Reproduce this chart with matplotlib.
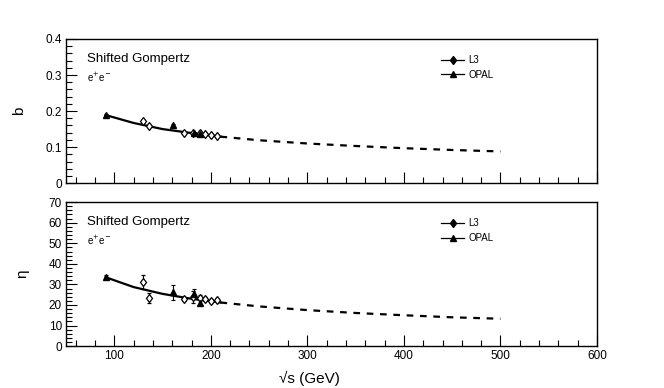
import matplotlib
matplotlib.use("Agg")
import matplotlib.pyplot as plt
from matplotlib.lines import Line2D
from matplotlib.ticker import MultipleLocator

plt.rcParams['font.family'] = ['Liberation Sans', 'DejaVu Sans']

# ---- data ----
l3_s_b = [130, 136, 172, 182, 189, 194, 200, 206]
l3_b = [0.173, 0.158, 0.138, 0.140, 0.140, 0.137, 0.133, 0.130]
l3_b_err = [0.003, 0.003, 0.002, 0.002, 0.002, 0.002, 0.002, 0.002]
opal_s_b = [91.2, 161, 183, 189]
opal_b = [0.189, 0.161, 0.140, 0.135]
opal_b_err = [0.002, 0.002, 0.002, 0.002]

l3_s_eta = [130, 136, 172, 182, 189, 194, 200, 206]
l3_eta = [31.3, 23.2, 22.7, 24.0, 23.5, 22.8, 22.0, 22.4]
l3_eta_err = [3.3, 2.4, 1.0, 2.9, 1.2, 1.0, 1.0, 1.0]
opal_s_eta = [91.2, 161, 183, 189]
opal_eta = [33.7, 26.1, 25.5, 21.2]
opal_eta_err = [1.0, 3.5, 2.5, 1.0]

fit_s = [91, 120, 150, 180, 210, 250, 300, 350, 400, 450, 500]
fit_b = [0.189, 0.167, 0.150, 0.139, 0.129, 0.119, 0.110, 0.103, 0.097, 0.092, 0.088]
fit_eta = [33.5, 28.7, 25.4, 23.0, 21.2, 19.3, 17.5, 16.1, 15.0, 14.0, 13.3]
solid_end = 5  # fit points up to 210 GeV drawn solid

fig = plt.figure(figsize=(6.64, 3.88), dpi=100)
ax1 = fig.add_axes([0.0994, 0.528, 0.7997, 0.3715])
ax2 = fig.add_axes([0.0994, 0.108, 0.7997, 0.371])

def style(ax, ymax, ymaj, ymin):
    ax.set_xlim(50, 600)
    ax.set_ylim(0, ymax)
    ax.xaxis.set_major_locator(MultipleLocator(100))
    ax.xaxis.set_minor_locator(MultipleLocator(20))
    ax.yaxis.set_major_locator(MultipleLocator(ymaj))
    ax.yaxis.set_minor_locator(MultipleLocator(ymin))
    ax.tick_params(which='both', direction='in', top=False, right=False,
                   labelsize=8.5, width=0.8, pad=3)
    ax.tick_params(which='major', length=8)
    ax.tick_params(which='minor', length=4)
    for sp in ax.spines.values():
        sp.set_linewidth(1.0)

def panel(ax, fit_y, l3x, l3y, l3e, opx, opy, ope):
    ax.plot(fit_s[:solid_end], fit_y[:solid_end], color='black', lw=1.6)
    ax.plot(fit_s[solid_end - 1:], fit_y[solid_end - 1:], color='black', lw=1.6,
            ls=(0, (3, 3)))
    ax.errorbar(l3x, l3y, yerr=l3e, fmt='d', mfc='white', mec='black', ms=4.5,
                mew=0.9, ecolor='black', elinewidth=0.8, capsize=1.5, capthick=0.8)
    ax.errorbar(opx, opy, yerr=ope, fmt='^', mfc='black', mec='black', ms=4.5,
                ecolor='black', elinewidth=0.8, capsize=1.5, capthick=0.8)
    ax.text(0.04, 0.84, 'Shifted Gompertz', transform=ax.transAxes, fontsize=9.5)
    ax.text(0.04, 0.70, r'e$^{+}$e$^{-}$', transform=ax.transAxes, fontsize=7)
    handles = [Line2D([], [], color='black', marker='d', ms=4.5, lw=0.9),
               Line2D([], [], color='black', marker='^', ms=4.5, lw=0.9)]
    ax.legend(handles, ['L3', 'OPAL'], loc='upper left',
              bbox_to_anchor=(0.69, 0.95), frameon=False, fontsize=7,
              handlelength=2.4, handletextpad=0.4, labelspacing=0.5)

style(ax1, 0.4, 0.1, 0.02)
style(ax2, 70, 10, 2)
ax1.tick_params(labelbottom=False)
ax1.set_yticks([0, 0.1, 0.2, 0.3, 0.4])
ax1.set_yticklabels(['0', '0.1', '0.2', '0.3', '0.4'])

panel(ax1, fit_b, l3_s_b, l3_b, l3_b_err, opal_s_b, opal_b, opal_b_err)
panel(ax2, fit_eta, l3_s_eta, l3_eta, l3_eta_err, opal_s_eta, opal_eta, opal_eta_err)

ax1.set_ylabel('b', fontsize=11, labelpad=14)
ax2.set_ylabel('η', fontsize=11, labelpad=14)
fig.text(309 / 664, 1 - 378 / 388, '√s (GeV)', ha='center', va='center', fontsize=11)

fig.savefig('out.png', dpi=100)
